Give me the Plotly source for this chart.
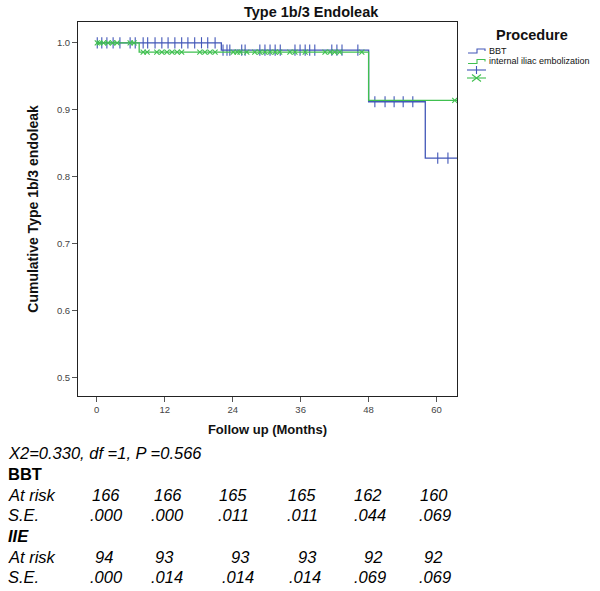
import plotly.graph_objects as go

# ---------------- data ----------------
groups = ["BBT", "internal iliac embolization"]

bbt_event_times = [0, 22, 48, 58]
bbt_surv = [1.0, 0.989, 0.912, 0.828]
bbt_last_followup = 66
bbt_censor_times = [0.1, 0.9, 1.8, 2.9, 4.1, 5.9, 6.8, 8.2, 9.0, 10.3, 11.5, 12.6, 13.8,
                    15.0, 16.1, 17.3, 18.5, 19.6, 20.9,
                    22.3, 23.0, 23.5, 25.6, 26.2, 28.8, 29.7, 30.6, 31.5, 32.4, 35.0, 35.9,
                    36.8, 37.6, 38.5, 41.5, 42.4, 43.3, 46.1,
                    49.1, 50.9, 52.5, 54.1, 55.8, 60.2, 62.0]

iie_event_times = [0, 7.5, 48]
iie_surv = [1.0, 0.986, 0.914]
iie_last_followup = 66
iie_censor_times = [0.1, 0.5, 1.2, 2.0, 2.8, 3.6, 5.9, 6.6,
                    8.2, 8.9, 10.6, 11.5, 12.4, 13.3, 14.2, 15.0, 18.2, 19.1, 20.0, 20.9,
                    24.1, 24.8, 25.3, 26.5, 27.9, 28.8, 29.7, 30.6, 31.5, 32.3, 34.1, 35.0,
                    36.8, 40.3, 41.2, 42.0, 42.9, 46.8, 63.2]

x_ticks = [0, 12, 24, 36, 48, 60]
y_ticks = [0.5, 0.6, 0.7, 0.8, 0.9, 1.0]

stat_text = "X2=0.330, df =1, P =0.566"
bbt_at_risk = [166, 166, 165, 165, 162, 160]
bbt_se = [".000", ".000", ".011", ".011", ".044", ".069"]
iie_at_risk = [94, 93, 93, 93, 92, 92]
iie_se = [".000", ".014", ".014", ".014", ".069", ".069"]

# ---------------- styling / layout ----------------
W, H = 600, 591
L, R, T, B = 78, 457, 22, 396
BLUE = "#4257b8"
GREEN = "#40c050"
FONT = "Liberation Sans, Arial, sans-serif"


def px2x(px):
    return (px - L) / (R - L)


def py2y(py):
    return (B - py) / (B - T)


def surv_at(t, times, surv):
    s = surv[0]
    for tt, ss in zip(times, surv):
        if t >= tt:
            s = ss
    return s


def step_xy(times, surv, last):
    xs = list(times) + [last]
    ys = list(surv) + [surv[-1]]
    return xs, ys


fig = go.Figure()

for times, surv, last, cens, color, sym, msize in [
    (bbt_event_times, bbt_surv, bbt_last_followup, bbt_censor_times, BLUE, "line-ns-open", 8),
    (iie_event_times, iie_surv, iie_last_followup, iie_censor_times, GREEN, "x-thin-open", 5),
]:
    xs, ys = step_xy(times, surv, last)
    fig.add_trace(go.Scatter(x=xs, y=ys, mode="lines", line=dict(color=color, width=1.3, shape="hv"),
                             showlegend=False, hoverinfo="skip"))
    fig.add_trace(go.Scatter(x=cens, y=[surv_at(c, times, surv) for c in cens], mode="markers",
                             marker=dict(symbol=sym, size=msize, color=color,
                                         line=dict(color=color, width=1.1)),
                             showlegend=False, hoverinfo="skip"))

fig.update_xaxes(range=[-3.3, 63.6], tickvals=x_ticks, ticks="outside", ticklen=5, tickcolor="#555",
                 showgrid=False, zeroline=False, showline=True, linecolor="#222", linewidth=1, mirror=True,
                 tickfont=dict(family=FONT, size=9.5, color="#444"),
                 title=dict(text="<b>Follow up (Months)</b>", font=dict(family=FONT, size=13, color="#111"),
                            standoff=10))
fig.update_yaxes(range=[0.473, 1.031], tickvals=y_ticks, tickformat=".1f", ticks="outside", ticklen=5,
                 tickcolor="#555", showgrid=False, zeroline=False, showline=True, linecolor="#222",
                 linewidth=1, mirror=True, tickfont=dict(family=FONT, size=9.5, color="#444"),
                 title=dict(text="<b>Cumulative Type 1b/3 endoleak</b>",
                            font=dict(family=FONT, size=14, color="#111"), standoff=14))

anns = []
shapes = []
# title
anns.append(dict(x=px2x(311), y=py2y(12), xref="paper", yref="paper", text="<b>Type 1b/3 Endoleak</b>",
                 showarrow=False, xanchor="center", yanchor="middle",
                 font=dict(family=FONT, size=14.5, color="#111")))
# legend (manual)
anns.append(dict(x=px2x(532), y=py2y(35), xref="paper", yref="paper", text="<b>Procedure</b>",
                 showarrow=False, xanchor="center", yanchor="middle",
                 font=dict(family=FONT, size=14.5, color="#111")))
legend_rows = [(51, groups[0], BLUE), (61.5, groups[1], GREEN)]
for yy, label, color in legend_rows:
    p = (f"M {px2x(468)} {py2y(yy+2)} L {px2x(477)} {py2y(yy+2)} L {px2x(477)} {py2y(yy-2)} "
         f"L {px2x(485)} {py2y(yy-2)} L {px2x(485)} {py2y(yy)}")
    shapes.append(dict(type="path", path=p, xref="paper", yref="paper", line=dict(color=color, width=1.1)))
    anns.append(dict(x=px2x(487), y=py2y(yy), xref="paper", yref="paper", text=label, showarrow=False,
                     xanchor="left", yanchor="middle", font=dict(family=FONT, size=9, color="#111")))
# censor legend icons
for yy, color, kind in [(70, BLUE, "plus"), (78, GREEN, "star")]:
    shapes.append(dict(type="line", xref="paper", yref="paper", x0=px2x(467), x1=px2x(486),
                       y0=py2y(yy), y1=py2y(yy), line=dict(color=color, width=1.1)))
    if kind == "plus":
        shapes.append(dict(type="line", xref="paper", yref="paper", x0=px2x(476.5), x1=px2x(476.5),
                           y0=py2y(yy - 4), y1=py2y(yy + 4), line=dict(color=color, width=1.1)))
    else:
        for d in (-1, 1):
            shapes.append(dict(type="line", xref="paper", yref="paper", x0=px2x(472), x1=px2x(481),
                               y0=py2y(yy - 3.5 * d), y1=py2y(yy + 3.5 * d),
                               line=dict(color=color, width=1.1)))

# statistics text and table
TF = dict(family=FONT, size=16.5, color="#000")


def txt(px, py, text, anchor="left"):
    anns.append(dict(x=px2x(px), y=py2y(py), xref="paper", yref="paper", text=text, showarrow=False,
                     xanchor=anchor, yanchor="middle", font=TF))


txt(6, 453, f"<i>{stat_text}</i>")
txt(6, 474, "<b>BBT</b>")
txt(6, 495, "<i>At risk</i>")
txt(6, 515, "<i>S.E.</i>")
txt(6, 536, "<b><i>IIE</i></b>")
txt(6, 557, "<i>At risk</i>")
txt(6, 577, "<i>S.E.</i>")

cols_bbt_risk = [106, 168, 233, 302, 368, 434]
cols_bbt_se = [106, 167, 233, 302, 370, 435]
cols_iie_risk = [104, 164, 240, 307, 373, 433]
cols_iie_se = [106, 167, 238, 305, 370, 435]
for vals, cols, py in [(bbt_at_risk, cols_bbt_risk, 495), (bbt_se, cols_bbt_se, 515),
                       (iie_at_risk, cols_iie_risk, 557), (iie_se, cols_iie_se, 577)]:
    for v, c in zip(vals, cols):
        txt(c, py, f"<i>{v}</i>", anchor="center")

fig.update_layout(width=W, height=H, margin=dict(l=L, r=W - R, t=T, b=H - B, autoexpand=False),
                  paper_bgcolor="white", plot_bgcolor="white", showlegend=False,
                  annotations=anns, shapes=shapes, font=dict(family=FONT))

fig.write_html("out.html", config={"displayModeBar": False},
               post_script="document.body.style.margin='0px';document.body.style.overflow='hidden';")
